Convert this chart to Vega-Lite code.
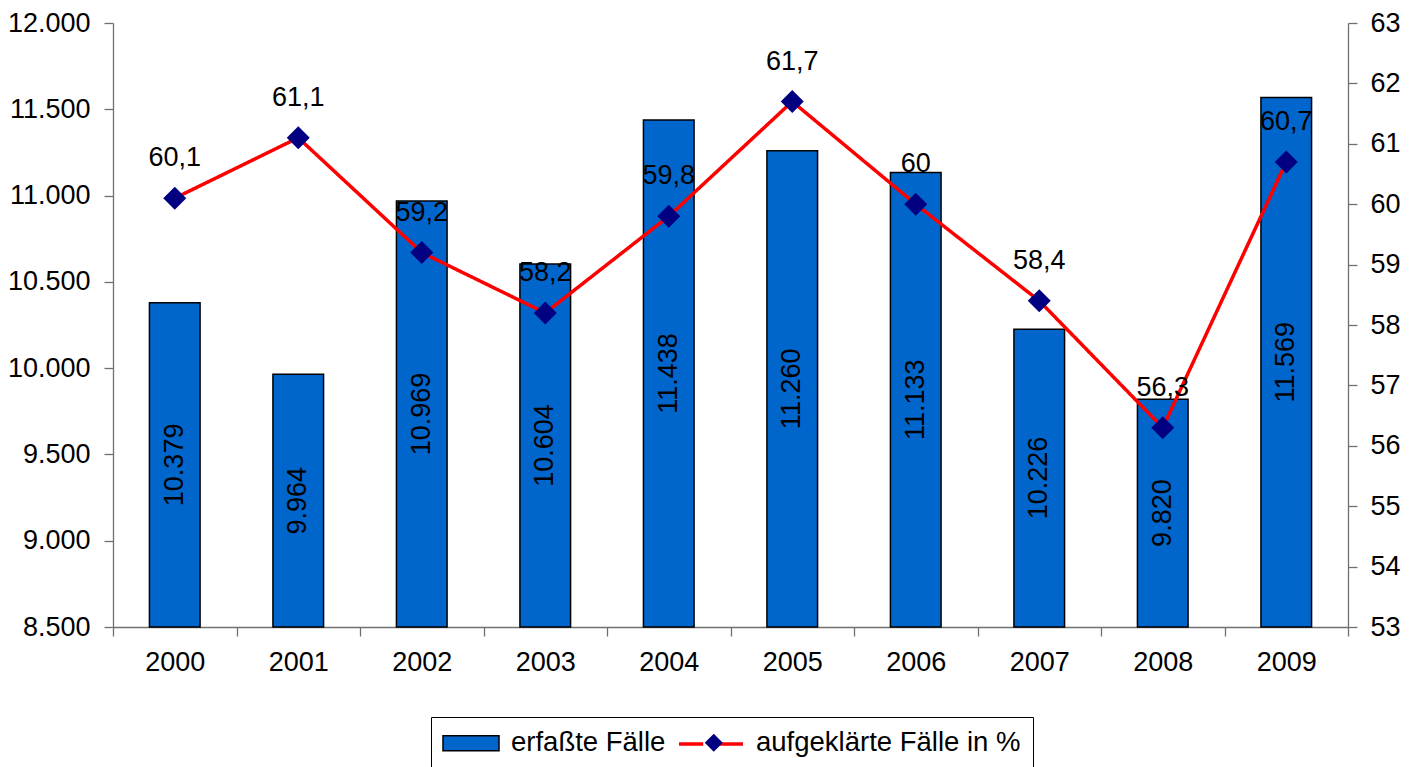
{
  "$schema": "https://vega.github.io/schema/vega-lite/v6.json",
  "width": 1235,
  "height": 604,
  "autosize": {"type": "none"},
  "padding": {"left": 113, "top": 23, "right": 71, "bottom": 140},
  "data": {
    "values": [
      {"jahr": "2000", "faelle": 10379, "quote": 60.1},
      {"jahr": "2001", "faelle": 9964, "quote": 61.1},
      {"jahr": "2002", "faelle": 10969, "quote": 59.2},
      {"jahr": "2003", "faelle": 10604, "quote": 58.2},
      {"jahr": "2004", "faelle": 11438, "quote": 59.8},
      {"jahr": "2005", "faelle": 11260, "quote": 61.7},
      {"jahr": "2006", "faelle": 11133, "quote": 60.0},
      {"jahr": "2007", "faelle": 10226, "quote": 58.4},
      {"jahr": "2008", "faelle": 9820, "quote": 56.3},
      {"jahr": "2009", "faelle": 11569, "quote": 60.7}
    ]
  },
  "encoding": {
    "x": {
      "field": "jahr",
      "type": "ordinal",
      "scale": {"paddingInner": 0, "paddingOuter": 0},
      "axis": {
        "title": null,
        "labelAngle": 0,
        "tickBand": "extent",
        "tickSize": 9,
        "labelPadding": 13,
        "domainColor": "#707070",
        "tickColor": "#707070"
      }
    }
  },
  "layer": [
    {
      "layer": [
        {
          "mark": {"type": "bar", "width": {"band": 0.41}, "strokeWidth": 1.5},
          "encoding": {
            "y": {
              "field": "faelle",
              "type": "quantitative",
              "scale": {"domain": [8500, 12000], "zero": false, "nice": false},
              "axis": {
                "title": null,
                "values": [8500, 9000, 9500, 10000, 10500, 11000, 11500, 12000],
                "format": ",.0f",
                "tickSize": 9,
                "labelPadding": 14,
                "domainColor": "#707070",
                "tickColor": "#707070"
              }
            },
            "y2": {"datum": 8500},
            "color": {
              "datum": "erfaßte Fälle",
              "scale": {"domain": ["erfaßte Fälle", "aufgeklärte Fälle in %"], "range": ["#0066CC", "transparent"]},
              "legend": {
                "title": null,
                "orient": "none",
                "legendX": 318,
                "legendY": 694,
                "direction": "horizontal",
                "strokeColor": "#000000",
                "padding": 12,
                "symbolType": "M-2.154,-0.577H2.154V0.577H-2.154Z",
                "symbolSize": 676,
                "symbolOffset": 14,
                "symbolStrokeWidth": 1.5,
                "labelOffset": 26,
                "columnPadding": 18,
                "labelFont": "Liberation Sans",
                "labelFontSize": 27.5,
                "labelColor": "#000000",
                "labelLimit": 0
              }
            },
            "stroke": {
              "datum": "erfaßte Fälle",
              "scale": {"domain": ["erfaßte Fälle", "aufgeklärte Fälle in %"], "range": ["#000000", "transparent"]},
              "legend": {
                "title": null,
                "orient": "none",
                "legendX": 318,
                "legendY": 694,
                "direction": "horizontal",
                "strokeColor": "#000000",
                "padding": 12,
                "symbolType": "M-2.154,-0.577H2.154V0.577H-2.154Z",
                "symbolSize": 676,
                "symbolOffset": 14,
                "symbolStrokeWidth": 1.5,
                "labelOffset": 26,
                "columnPadding": 18,
                "labelFont": "Liberation Sans",
                "labelFontSize": 27.5,
                "labelColor": "#000000",
                "labelLimit": 0
              }
            }
          }
        },
        {
          "transform": [{"calculate": "(datum.faelle + 8500) / 2", "as": "mitte"}],
          "mark": {"type": "text", "angle": 270, "align": "center", "baseline": "middle", "font": "Liberation Sans", "fontSize": 27, "color": "#000000"},
          "encoding": {
            "y": {"field": "mitte", "type": "quantitative", "scale": {"domain": [8500, 12000], "zero": false, "nice": false}},
            "text": {"field": "faelle", "type": "quantitative", "format": ",.0f"}
          }
        }
      ]
    },
    {
      "layer": [
        {
          "mark": {"type": "line", "strokeWidth": 3.5, "color": "#FF0000"},
          "encoding": {
            "y": {
              "field": "quote",
              "type": "quantitative",
              "scale": {"domain": [53, 63], "zero": false, "nice": false},
              "axis": {
                "orient": "right",
                "title": null,
                "values": [53, 54, 55, 56, 57, 58, 59, 60, 61, 62, 63],
                "format": "d",
                "tickSize": 9,
                "labelPadding": 13,
                "domainColor": "#707070",
                "tickColor": "#707070"
              }
            },
            "strokeDash": {
              "datum": "aufgeklärte Fälle in %",
              "type": "nominal",
              "scale": {"domain": ["aufgeklärte Fälle in %"], "range": [[1, 0]]},
              "legend": {
                "title": null,
                "orient": "none",
                "legendX": 583,
                "legendY": 706,
                "padding": 0,
                "symbolType": "M-2.46,0H-0.6M0.6,0H2.46",
                "symbolSize": 676,
                "symbolOffset": 0,
                "symbolStrokeColor": "#FF0000",
                "symbolStrokeWidth": 3.5,
                "labelFont": "Liberation Sans",
                "labelFontSize": 27.5,
                "labelColor": "transparent",
                "labelExpr": "' '",
                "labelLimit": 0
              }
            }
          }
        },
        {
          "mark": {"type": "point", "shape": "diamond", "filled": true, "fill": "#000080", "opacity": 1, "size": 529, "strokeWidth": 0},
          "encoding": {
            "y": {"field": "quote", "type": "quantitative", "scale": {"domain": [53, 63], "zero": false, "nice": false}},
            "opacity": {
              "datum": "Raute",
              "type": "ordinal",
              "scale": {"domain": ["Raute"], "range": [1, 1]},
              "legend": {
                "title": null,
                "orient": "none",
                "legendX": 587,
                "legendY": 706,
                "padding": 0,
                "symbolType": "diamond",
                "symbolSize": 324,
                "symbolOffset": 0,
                "symbolFillColor": "#000080",
                "symbolStrokeWidth": 0,
                "labelFont": "Liberation Sans",
                "labelFontSize": 27.5,
                "labelColor": "transparent",
                "labelExpr": "' '",
                "labelLimit": 0
              }
            }
          }
        },
        {
          "mark": {"type": "text", "dy": -40, "align": "center", "baseline": "middle", "font": "Liberation Sans", "fontSize": 27, "color": "#000000"},
          "encoding": {
            "y": {"field": "quote", "type": "quantitative", "scale": {"domain": [53, 63], "zero": false, "nice": false}},
            "text": {"field": "quote", "type": "quantitative", "format": ".1~f"}
          }
        }
      ]
    }
  ],
  "resolve": {"scale": {"y": "independent"}},
  "config": {
    "locale": {"number": {"decimal": ",", "thousands": ".", "grouping": [3], "currency": ["", " €"]}},
    "view": {"stroke": null},
    "axis": {
      "grid": false,
      "labelFont": "Liberation Sans",
      "labelFontSize": 27,
      "labelColor": "#000000",
      "domainWidth": 1.3,
      "tickWidth": 1.3
    }
  }
}
